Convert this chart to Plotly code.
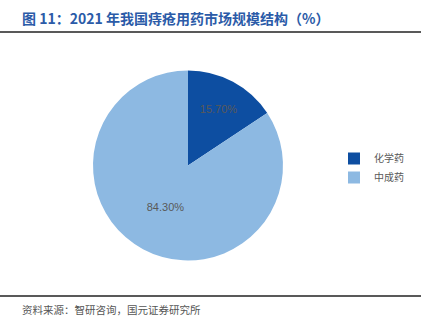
import plotly.graph_objects as go

# Market structure of hemorrhoid drugs in China, 2021 (%)
categories = ["化学药", "中成药"]
shares = [15.70, 84.30]
colors = ["#0D4EA1", "#8DB9E2"]

title_text = "图 11：2021 年我国痔疮用药市场规模结构（%）"
source_text = "资料来源：智研咨询，国元证券研究所"

W, H = 426, 323
cx, cy, r = 188, 165.5, 95

fig = go.Figure(
    go.Pie(
        labels=categories,
        values=shares,
        sort=False,
        direction="clockwise",
        rotation=0,
        marker=dict(colors=colors, line=dict(width=0)),
        texttemplate="%{value:.2f}%",
        textposition="inside",
        insidetextorientation="horizontal",
        textfont=dict(family="Liberation Sans, Arial, sans-serif", size=11, color="#595959"),
        hoverinfo="label+percent",
        domain=dict(x=[(cx - r) / W, (cx + r) / W], y=[(H - cy - r) / H, (H - cy + r) / H]),
    )
)

fig.update_layout(
    width=W,
    height=H,
    margin=dict(l=0, r=0, t=0, b=0),
    paper_bgcolor="white",
    plot_bgcolor="white",
    showlegend=True,
    legend=dict(
        x=334 / W,
        y=1 - 144 / H,
        xanchor="left",
        yanchor="top",
        font=dict(family="Noto Sans CJK SC", size=10, color="#595959"),
        itemwidth=30,
        bgcolor="rgba(0,0,0,0)",
    ),
    shapes=[
        dict(type="line", xref="paper", yref="paper", x0=0, x1=421 / W,
             y0=1 - 32 / H, y1=1 - 32 / H, line=dict(color="#222222", width=1.5)),
        dict(type="line", xref="paper", yref="paper", x0=0, x1=421 / W,
             y0=1 - 296 / H, y1=1 - 296 / H, line=dict(color="#222222", width=1.5)),
    ],
    annotations=[
        dict(text="<b>" + title_text + "</b>", xref="paper", yref="paper",
             x=20 / W, y=1 - 18 / H, xanchor="left", yanchor="middle", showarrow=False,
             font=dict(family="Noto Sans CJK SC", size=14, color="#2B5BA8")),
        dict(text=source_text, xref="paper", yref="paper",
             x=20 / W, y=1 - 309 / H, xanchor="left", yanchor="middle", showarrow=False,
             font=dict(family="Noto Sans CJK SC", size=10.5, color="#555555")),
    ],
)

fig.write_html("out.html")
